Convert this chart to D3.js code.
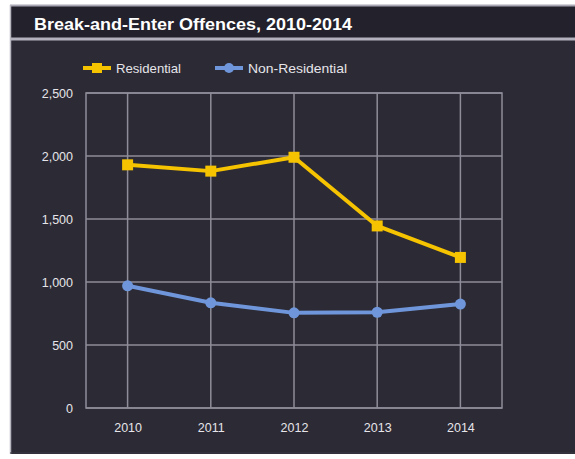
<!DOCTYPE html>
<html><head><meta charset="utf-8">
<script src="https://cdn.jsdelivr.net/npm/d3@7"></script>
<style>html,body{margin:0;padding:0;background:#fff;}svg{display:block;}</style>
</head><body>
<script>
const years = ["2010","2011","2012","2013","2014"];
const residential = [1930, 1880, 1990, 1445, 1195];
const nonResidential = [970, 835, 755, 760, 825];
const yTicks = [0, 500, 1000, 1500, 2000, 2500];
const seriesNames = ["Residential", "Non-Residential"];
const seriesColors = ["#f5c300", "#6f96da"];
const title = "Break-and-Enter Offences, 2010-2014";

const W = 575, H = 459;
const svg = d3.select("body").append("svg").attr("width", W).attr("height", H);

svg.append("rect").attr("x", 10).attr("y", 5).attr("width", W - 10).attr("height", 449).attr("fill", "#2c2a34");
svg.append("rect").attr("x", 10).attr("y", 5).attr("width", W - 10).attr("height", 33).attr("fill", "#23212b");
svg.append("line").attr("x1", 10).attr("x2", W).attr("y1", 5.5).attr("y2", 5.5).attr("stroke", "#a9a7b4").attr("stroke-width", 2);
svg.append("line").attr("x1", 10).attr("x2", W).attr("y1", 39).attr("y2", 39).attr("stroke", "#b3b1bd").attr("stroke-width", 3);
svg.append("line").attr("x1", 10.5).attr("x2", 10.5).attr("y1", 5).attr("y2", 454).attr("stroke", "#b8b6c0").attr("stroke-width", 1.5);
svg.append("line").attr("x1", 10).attr("x2", W).attr("y1", 453).attr("y2", 453).attr("stroke", "#3a3842").attr("stroke-width", 1);

svg.append("text").attr("x", 34).attr("y", 30).text(title)
  .attr("fill", "#ffffff").attr("font-family", "Liberation Sans, Arial, sans-serif")
  .attr("font-weight", "bold").attr("font-size", 17).attr("textLength", 318).attr("lengthAdjust", "spacingAndGlyphs");

const pLeft = 86, pRight = 502, pTop = 93, pBottom = 408;
const x = d3.scalePoint().domain(years).range([pLeft, pRight]).padding(0.5);
const y = d3.scaleLinear().domain([0, 2500]).range([pBottom, pTop]);

const gridColor = "#8f8d99";
const g = svg.append("g");
g.selectAll("line.h").data(yTicks).join("line").attr("class", "h")
  .attr("x1", pLeft).attr("x2", pRight).attr("y1", d => y(d)).attr("y2", d => y(d))
  .attr("stroke", gridColor).attr("stroke-width", 1.5);
g.selectAll("line.v").data(years).join("line").attr("class", "v")
  .attr("x1", d => x(d)).attr("x2", d => x(d)).attr("y1", pTop).attr("y2", pBottom)
  .attr("stroke", gridColor).attr("stroke-width", 1.5);
g.append("rect").attr("x", pLeft).attr("y", pTop).attr("width", pRight - pLeft).attr("height", pBottom - pTop)
  .attr("fill", "none").attr("stroke", gridColor).attr("stroke-width", 1.5);

const font = "Liberation Sans Narrow, Liberation Sans, Arial, sans-serif";
const yAxis = d3.axisLeft(y).tickValues(yTicks).tickFormat(d3.format(",")).tickSize(0).tickPadding(13);
const ya = svg.append("g").attr("transform", `translate(${pLeft},0)`).call(yAxis);
ya.select(".domain").remove();
ya.selectAll("text").attr("fill", "#e6e5ea").attr("font-family", font).attr("font-size", 12.5);

const xAxis = d3.axisBottom(x).tickSize(0).tickPadding(15);
const xa = svg.append("g").attr("transform", `translate(0,${pBottom})`).call(xAxis);
xa.select(".domain").remove();
xa.selectAll("text").attr("fill", "#e6e5ea").attr("font-family", font).attr("font-size", 12.5);

const line = d3.line().x((d, i) => x(years[i])).y(d => y(d));
const data = [residential, nonResidential];
data.forEach((vals, si) => {
  svg.append("path").datum(vals).attr("d", line).attr("fill", "none")
    .attr("stroke", seriesColors[si]).attr("stroke-width", 4).attr("stroke-linejoin", "round");
  if (si === 0) {
    svg.selectAll(null).data(vals).join("rect")
      .attr("x", (d, i) => x(years[i]) - 5.5).attr("y", d => y(d) - 5.5)
      .attr("width", 11).attr("height", 11).attr("fill", seriesColors[si]);
  } else {
    svg.selectAll(null).data(vals).join("circle")
      .attr("cx", (d, i) => x(years[i])).attr("cy", d => y(d)).attr("r", 5.5).attr("fill", seriesColors[si]);
  }
});

const legendX = [83, 215];
const legendW = [65, 99];
seriesNames.forEach((name, si) => {
  const lx = legendX[si], ly = 68;
  svg.append("line").attr("x1", lx).attr("x2", lx + 28).attr("y1", ly).attr("y2", ly)
    .attr("stroke", seriesColors[si]).attr("stroke-width", 4);
  if (si === 0) {
    svg.append("rect").attr("x", lx + 14 - 5).attr("y", ly - 5).attr("width", 10).attr("height", 10).attr("fill", seriesColors[si]);
  } else {
    svg.append("circle").attr("cx", lx + 14).attr("cy", ly).attr("r", 5).attr("fill", seriesColors[si]);
  }
  svg.append("text").attr("x", lx + 33).attr("y", ly + 4.5).text(name)
    .attr("fill", "#e6e5ea").attr("font-family", font).attr("font-size", 13)
    .attr("textLength", legendW[si]).attr("lengthAdjust", "spacingAndGlyphs");
});
</script>
</body></html>
